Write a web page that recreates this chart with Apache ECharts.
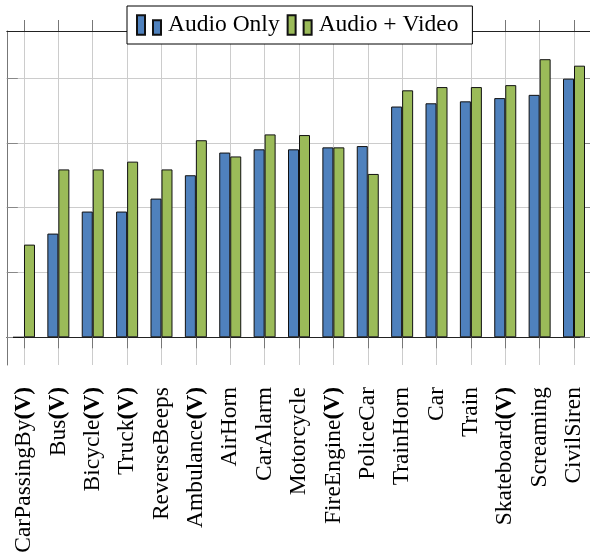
<!DOCTYPE html>
<html><head><meta charset="utf-8">
<script src="https://cdn.jsdelivr.net/npm/echarts@6/dist/echarts.min.js"></script>
<style>html,body{margin:0;padding:0;background:#fff}#c{width:590px;height:555px}</style>
</head><body><div id="c"></div>
<script>
const categories = ['CarPassingBy(V)','Bus(V)','Bicycle(V)','Truck(V)','ReverseBeeps','Ambulance(V)','AirHorn','CarAlarm','Motorcycle','FireEngine(V)','PoliceCar','TrainHorn','Car','Train','Skateboard(V)','Screaming','CivilSiren'];
const audioOnly  = [0, 16.0, 19.4, 19.4, 21.4, 25.0, 28.5, 29.0, 29.0, 29.3, 29.5, 35.6, 36.1, 36.4, 36.9, 37.4, 39.9];
const audioVideo = [14.3, 25.9, 25.9, 27.1, 25.9, 30.4, 27.9, 31.3, 31.2, 29.3, 25.2, 38.1, 38.6, 38.6, 38.9, 42.9, 41.9];
const yTickValues = [0, 10, 20, 30, 40];
const seriesNames = ['Audio Only', 'Audio + Video'];

const FONT = 'Liberation Serif';
const catIndex = categories.map((c, i) => i);
const yMin = -4.27, yMax = 47.25;

function fmt(v) {
  if (v.endsWith('(V)')) return '{n|' + v.slice(0, -3) + '}{b|(V)}';
  return '{n|' + v + '}';
}

const chart = echarts.init(document.getElementById('c'));
chart.setOption({
  animation: false,
  backgroundColor: '#fff',
  grid: { left: 6.8, right: -1.2, top: 31, bottom: 190, containLabel: false, outerBoundsMode: 'none' },
  legend: {
    data: seriesNames,
    left: 127, top: 6,
    padding: [7, 14, 7, 9],
    backgroundColor: '#fff',
    borderColor: '#000', borderWidth: 1,
    itemWidth: 24, itemHeight: 19.4, itemGap: 7,
    icon: 'path://M0,0h8v19.4h-8z M16,5h8v14.4h-8z',
    textStyle: { fontFamily: FONT, fontSize: 23.5, color: '#000', padding: [0, 0, 0, 2] },
    z: 10
  },
  xAxis: [
    {
      type: 'category', data: categories, position: 'bottom',
      axisLine: { show: true, lineStyle: { color: '#222', width: 1 } },
      axisTick: { show: true, alignWithLabel: true, length: 11, inside: false, lineStyle: { color: '#777' } },
      splitLine: { show: false },
      axisLabel: {
        rotate: 90, margin: 22, interval: 0, color: '#000',
        formatter: fmt,
        rich: {
          n: { fontFamily: FONT, fontSize: 23.5, color: '#000' },
          b: { fontFamily: FONT, fontSize: 23.5, color: '#000', fontWeight: 'bold' }
        }
      }
    },
    {
      type: 'value', position: 'top', min: -0.5, max: categories.length - 0.5,
      axisLine: { show: true, onZero: false, lineStyle: { color: '#222', width: 1 } },
      axisTick: { show: true, length: 11, inside: false, customValues: catIndex, lineStyle: { color: '#777' } },
      axisLabel: { show: false },
      splitLine: { show: true, lineStyle: { color: '#ccc', width: 1 } }
    }
  ],
  yAxis: [
    {
      type: 'value', position: 'left', min: yMin, max: yMax,
      axisLine: { show: true, onZero: false, lineStyle: { color: '#777', width: 1 } },
      axisTick: { show: true, inside: true, length: 11, customValues: yTickValues, lineStyle: { color: '#888' } },
      axisLabel: { show: false },
      splitLine: { show: true, lineStyle: { color: '#ccc', width: 1 } }
    },
    {
      type: 'value', position: 'right', min: yMin, max: yMax,
      axisLine: { show: true, onZero: false, lineStyle: { color: '#777', width: 1 } },
      axisTick: { show: true, inside: true, length: 11, customValues: yTickValues, lineStyle: { color: '#888' } },
      axisLabel: { show: false },
      splitLine: { show: false }
    }
  ],
  series: [
    {
      name: seriesNames[0], type: 'bar', data: audioOnly, xAxisIndex: 0, yAxisIndex: 0,
      barWidth: 11, barGap: '0%',
      itemStyle: { color: '#4f81bd', borderColor: '#111', borderWidth: 1 }
    },
    {
      name: seriesNames[1], type: 'bar', data: audioVideo, xAxisIndex: 0, yAxisIndex: 0,
      barWidth: 11, barGap: '0%',
      itemStyle: { color: '#9bbb59', borderColor: '#111', borderWidth: 1 }
    }
  ]
});
</script></body></html>
